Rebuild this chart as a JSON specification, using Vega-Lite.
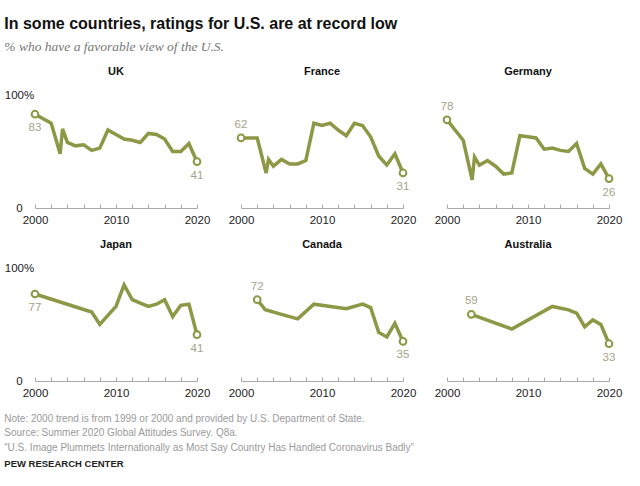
{
  "$schema": "https://vega.github.io/schema/vega-lite/v6.json",
  "padding": {"left": 4, "top": 15, "right": 5, "bottom": 5},
  "background": "white",
  "title": {
    "text": "In some countries, ratings for U.S. are at record low",
    "subtitle": "% who have a favorable view of the U.S.",
    "anchor": "start",
    "font": "Liberation Sans",
    "fontSize": 16,
    "fontWeight": "bold",
    "color": "#111111",
    "subtitleFont": "Liberation Serif",
    "subtitleFontStyle": "italic",
    "subtitleFontSize": 13.5,
    "subtitleColor": "#777777",
    "subtitlePadding": 8,
    "offset": 13
  },
  "vconcat": [
    {
      "data": {
        "values": [
          {"country": "UK", "year": 2000, "value": 83},
          {"country": "UK", "year": 2002, "value": 75},
          {"country": "UK", "year": 2003.1, "value": 48},
          {"country": "UK", "year": 2003.4, "value": 70},
          {"country": "UK", "year": 2004, "value": 58},
          {"country": "UK", "year": 2005, "value": 55},
          {"country": "UK", "year": 2006, "value": 56},
          {"country": "UK", "year": 2007, "value": 51},
          {"country": "UK", "year": 2008, "value": 53},
          {"country": "UK", "year": 2009, "value": 69},
          {"country": "UK", "year": 2010, "value": 65},
          {"country": "UK", "year": 2011, "value": 61},
          {"country": "UK", "year": 2012, "value": 60},
          {"country": "UK", "year": 2013, "value": 58},
          {"country": "UK", "year": 2014, "value": 66},
          {"country": "UK", "year": 2015, "value": 65},
          {"country": "UK", "year": 2016, "value": 61},
          {"country": "UK", "year": 2017, "value": 50},
          {"country": "UK", "year": 2018, "value": 50},
          {"country": "UK", "year": 2019, "value": 57},
          {"country": "UK", "year": 2020, "value": 41},
          {"country": "France", "year": 2000, "value": 62},
          {"country": "France", "year": 2002, "value": 62},
          {"country": "France", "year": 2003.1, "value": 31},
          {"country": "France", "year": 2003.4, "value": 43},
          {"country": "France", "year": 2004, "value": 37},
          {"country": "France", "year": 2005, "value": 43},
          {"country": "France", "year": 2006, "value": 39},
          {"country": "France", "year": 2007, "value": 39},
          {"country": "France", "year": 2008, "value": 42},
          {"country": "France", "year": 2009, "value": 75},
          {"country": "France", "year": 2010, "value": 73},
          {"country": "France", "year": 2011, "value": 75},
          {"country": "France", "year": 2012, "value": 69},
          {"country": "France", "year": 2013, "value": 64},
          {"country": "France", "year": 2014, "value": 75},
          {"country": "France", "year": 2015, "value": 73},
          {"country": "France", "year": 2016, "value": 63},
          {"country": "France", "year": 2017, "value": 46},
          {"country": "France", "year": 2018, "value": 38},
          {"country": "France", "year": 2019, "value": 48},
          {"country": "France", "year": 2020, "value": 31},
          {"country": "Germany", "year": 2000, "value": 78},
          {"country": "Germany", "year": 2002, "value": 60},
          {"country": "Germany", "year": 2003.1, "value": 25},
          {"country": "Germany", "year": 2003.4, "value": 45},
          {"country": "Germany", "year": 2004, "value": 38},
          {"country": "Germany", "year": 2005, "value": 42},
          {"country": "Germany", "year": 2006, "value": 37},
          {"country": "Germany", "year": 2007, "value": 30},
          {"country": "Germany", "year": 2008, "value": 31},
          {"country": "Germany", "year": 2009, "value": 64},
          {"country": "Germany", "year": 2010, "value": 63},
          {"country": "Germany", "year": 2011, "value": 62},
          {"country": "Germany", "year": 2012, "value": 52},
          {"country": "Germany", "year": 2013, "value": 53},
          {"country": "Germany", "year": 2014, "value": 51},
          {"country": "Germany", "year": 2015, "value": 50},
          {"country": "Germany", "year": 2016, "value": 57},
          {"country": "Germany", "year": 2017, "value": 35},
          {"country": "Germany", "year": 2018, "value": 30},
          {"country": "Germany", "year": 2019, "value": 39},
          {"country": "Germany", "year": 2020, "value": 26},
          {"country": "Japan", "year": 2000, "value": 77},
          {"country": "Japan", "year": 2007, "value": 61},
          {"country": "Japan", "year": 2008, "value": 50},
          {"country": "Japan", "year": 2010, "value": 66},
          {"country": "Japan", "year": 2011, "value": 85},
          {"country": "Japan", "year": 2012, "value": 72},
          {"country": "Japan", "year": 2013, "value": 69},
          {"country": "Japan", "year": 2014, "value": 66},
          {"country": "Japan", "year": 2015, "value": 68},
          {"country": "Japan", "year": 2016, "value": 72},
          {"country": "Japan", "year": 2017, "value": 57},
          {"country": "Japan", "year": 2018, "value": 67},
          {"country": "Japan", "year": 2019, "value": 68},
          {"country": "Japan", "year": 2020, "value": 41},
          {"country": "Canada", "year": 2002, "value": 72},
          {"country": "Canada", "year": 2003, "value": 63},
          {"country": "Canada", "year": 2005, "value": 59},
          {"country": "Canada", "year": 2007, "value": 55},
          {"country": "Canada", "year": 2009, "value": 68},
          {"country": "Canada", "year": 2013, "value": 64},
          {"country": "Canada", "year": 2015, "value": 68},
          {"country": "Canada", "year": 2016, "value": 65},
          {"country": "Canada", "year": 2017, "value": 43},
          {"country": "Canada", "year": 2018, "value": 39},
          {"country": "Canada", "year": 2019, "value": 51},
          {"country": "Canada", "year": 2020, "value": 35},
          {"country": "Australia", "year": 2003, "value": 59},
          {"country": "Australia", "year": 2008, "value": 46},
          {"country": "Australia", "year": 2013, "value": 66},
          {"country": "Australia", "year": 2015, "value": 63},
          {"country": "Australia", "year": 2016, "value": 60},
          {"country": "Australia", "year": 2017, "value": 48},
          {"country": "Australia", "year": 2018, "value": 54},
          {"country": "Australia", "year": 2019, "value": 50},
          {"country": "Australia", "year": 2020, "value": 33}
        ]
      },
      "title": {
        "text": [
          "Note: 2000 trend is from 1999 or 2000 and provided by U.S. Department of State.",
          "Source: Summer 2020 Global Attitudes Survey. Q8a.",
          "“U.S. Image Plummets Internationally as Most Say Country Has Handled Coronavirus Badly”"
        ],
        "subtitle": "PEW RESEARCH CENTER",
        "orient": "bottom",
        "anchor": "start",
        "font": "Liberation Sans",
        "fontSize": 10,
        "fontWeight": "normal",
        "color": "#9a9a9a",
        "lineHeight": 14.5,
        "subtitleFont": "Liberation Sans",
        "subtitleFontSize": 9.5,
        "subtitleFontWeight": "bold",
        "subtitleColor": "#222222",
        "subtitlePadding": 6,
        "offset": 15
      },
      "facet": {
        "field": "country",
        "type": "nominal",
        "sort": ["UK", "France", "Germany", "Japan", "Canada", "Australia"],
        "header": {
          "title": null,
          "labelFont": "Liberation Sans",
          "labelFontSize": 11,
          "labelFontWeight": "bold",
          "labelColor": "#111111",
          "labelPadding": 18
        }
      },
      "columns": 3,
      "spacing": {"column": 18, "row": 13},
      "resolve": {"axis": {"x": "independent"}},
      "spec": {
        "width": 162,
        "height": 113,
        "transform": [
          {"joinaggregate": [{"op": "min", "field": "year", "as": "firstYear"}, {"op": "max", "field": "year", "as": "lastYear"}], "groupby": ["country"]}
        ],
        "encoding": {
          "x": {
            "field": "year",
            "type": "quantitative",
            "scale": {"domain": [2000, 2020], "nice": false, "zero": false},
            "axis": {
              "title": null,
              "values": [2000, 2002, 2004, 2006, 2008, 2010, 2012, 2014, 2016, 2018, 2020],
              "labelExpr": "datum.value % 10 == 0 ? format(datum.value, 'd') : ''",
              "grid": false,
              "domainColor": "#aaaaaa",
              "tickColor": "#aaaaaa",
              "tickSize": -4,
              "labelFont": "Liberation Sans",
              "labelFontSize": 11.5,
              "labelColor": "#222222",
              "labelPadding": 10,
              "labelFlush": false,
              "labelOverlap": false
            }
          },
          "y": {
            "field": "value",
            "type": "quantitative",
            "scale": {"domain": [0, 100], "nice": false},
            "axis": {
              "title": null,
              "values": [0, 100],
              "labelExpr": "datum.value == 100 ? '100%' : '0'",
              "grid": false,
              "domain": false,
              "ticks": false,
              "labelFont": "Liberation Sans",
              "labelFontSize": 11.5,
              "labelColor": "#222222",
              "labelAlign": "center",
              "labelPadding": 3
            }
          }
        },
        "layer": [
          {
            "mark": {"type": "line", "color": "#8c9845", "strokeWidth": 3.5, "strokeJoin": "miter"}
          },
          {
            "transform": [{"filter": "datum.year == datum.firstYear || datum.year == datum.lastYear"}],
            "mark": {"type": "point", "filled": true, "fill": "white", "stroke": "#8c9845", "strokeWidth": 2, "size": 45, "opacity": 1}
          },
          {
            "transform": [{"filter": "datum.year == datum.firstYear && datum.country != 'UK' && datum.country != 'Japan'"}],
            "mark": {"type": "text", "dy": -13, "font": "Liberation Sans", "fontSize": 11.5, "color": "#a3a588"},
            "encoding": {"text": {"field": "value", "type": "quantitative"}}
          },
          {
            "transform": [{"filter": "datum.year == datum.lastYear || (datum.year == datum.firstYear && (datum.country == 'UK' || datum.country == 'Japan'))"}],
            "mark": {"type": "text", "dy": 14, "font": "Liberation Sans", "fontSize": 11.5, "color": "#a3a588"},
            "encoding": {"text": {"field": "value", "type": "quantitative"}}
          }
        ]
      }
    }
  ],
  "config": {
    "view": {"stroke": null},
    "concat": {"spacing": 0}
  }
}
